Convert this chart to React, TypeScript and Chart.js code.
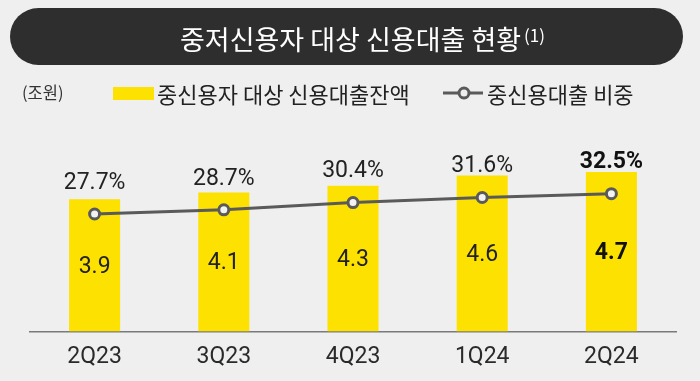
import React, { useEffect, useRef } from "react";
import { Chart, registerables } from "chart.js";

Chart.register(...registerables);

const categories = ["2Q23", "3Q23", "4Q23", "1Q24", "2Q24"];
const loanBalance = [3.9, 4.1, 4.3, 4.6, 4.7];
const loanShare = [27.7, 28.7, 30.4, 31.6, 32.5];
const balanceLabels = ["3.9", "4.1", "4.3", "4.6", "4.7"];
const shareLabels = ["27.7%", "28.7%", "30.4%", "31.6%", "32.5%"];

const titleText = "중저신용자 대상 신용대출 현황";
const titleNote = "(1)";
const unitText = "(조원)";
const barLegend = "중신용자 대상 신용대출잔액";
const lineLegend = "중신용대출 비중";

const YELLOW = "#FDE100";
const LINE = "#5a5a5a";
const NUM_FONT = "Roboto, 'Liberation Sans', sans-serif";
const KR_FONT = "'Noto Sans CJK KR', 'Noto Sans', sans-serif";

const labelPlugin = {
  id: "valueLabels",
  afterDatasetsDraw(chart: any) {
    const ctx = chart.ctx;
    const lineMeta = chart.getDatasetMeta(0);
    const barMeta = chart.getDatasetMeta(1);
    const last = categories.length - 1;
    ctx.save();
    ctx.textAlign = "center";
    ctx.textBaseline = "middle";
    barMeta.data.forEach((bar: any, i: number) => {
      const bold = i === last;
      ctx.fillStyle = bold ? "#111" : "#222";
      ctx.font = `${bold ? "bold " : ""}23px ${NUM_FONT}`;
      const midY = (bar.y + bar.base) / 2;
      ctx.fillText(balanceLabels[i], bar.x, midY + 1.5);
      const pt = lineMeta.data[i];
      ctx.fillText(shareLabels[i], bar.x, pt.y - 31);
    });
    ctx.restore();
  },
};

export default function App() {
  const canvasRef = useRef<HTMLCanvasElement | null>(null);

  useEffect(() => {
    const canvas = canvasRef.current;
    if (!canvas) return;
    const chart = new Chart(canvas, {
      data: {
        labels: categories,
        datasets: [
          {
            type: "line",
            label: lineLegend,
            data: loanShare,
            yAxisID: "y1",
            borderColor: LINE,
            borderWidth: 3,
            pointRadius: 5,
            pointBorderWidth: 3,
            pointBackgroundColor: "#f2f2f2",
            pointBorderColor: LINE,
            tension: 0,
            order: 0,
          } as any,
          {
            type: "bar",
            label: barLegend,
            data: loanBalance,
            yAxisID: "y",
            backgroundColor: YELLOW,
            borderWidth: 0,
            barPercentage: 0.395,
            categoryPercentage: 1,
            order: 1,
          } as any,
        ],
      },
      options: {
        responsive: false,
        animation: false,
        devicePixelRatio: 1,
        layout: { padding: { left: 30, right: 24, top: 128, bottom: 10 } },
        plugins: {
          legend: { display: false },
          title: { display: false },
          tooltip: { enabled: false },
        },
        scales: {
          x: {
            grid: { display: true, color: "transparent", drawTicks: false },
            border: { display: true, color: "#7a7a7a", width: 1.5 },
            ticks: {
              color: "#2a2a2a",
              padding: 12,
              font: { family: NUM_FONT, size: 23 },
            },
          },
          y: { display: false, min: 0, max: 6 },
          y1: { display: false, min: 0, max: 48 },
        },
      },
      plugins: [labelPlugin],
    } as any);
    return () => chart.destroy();
  }, []);

  return (
    <div
      style={{
        position: "absolute",
        left: 0,
        top: 0,
        width: 700,
        height: 381,
        background: "#efefef",
        overflow: "hidden",
      }}
    >
      <canvas
        ref={canvasRef}
        width={700}
        height={393}
        style={{ position: "absolute", left: 0, top: 0, width: 700, height: 393 }}
      />
      <div
        style={{
          position: "absolute",
          left: 10,
          top: 8,
          width: 673,
          height: 57,
          borderRadius: 29,
          background: "#2e2e2e",
        }}
      />
      <div
        style={{
          position: "absolute",
          left: 180,
          top: 20,
          fontFamily: KR_FONT,
          fontSize: 27,
          lineHeight: "38px",
          color: "#ffffff",
          whiteSpace: "nowrap",
        }}
      >
        {titleText}
        <span style={{ fontSize: 17, position: "relative", top: -8, marginLeft: 3 }}>{titleNote}</span>
      </div>
      <div
        style={{
          position: "absolute",
          left: 22,
          top: 80,
          fontFamily: KR_FONT,
          fontSize: 16.5,
          lineHeight: "24px",
          color: "#333",
          whiteSpace: "nowrap",
        }}
      >
        {unitText}
      </div>
      <div
        style={{
          position: "absolute",
          left: 113,
          top: 87,
          width: 41,
          height: 13,
          background: YELLOW,
        }}
      />
      <div
        style={{
          position: "absolute",
          left: 157,
          top: 77,
          fontFamily: KR_FONT,
          fontSize: 22,
          lineHeight: "32px",
          color: "#222",
          whiteSpace: "nowrap",
        }}
      >
        {barLegend}
      </div>
      <svg
        width={42}
        height={20}
        style={{ position: "absolute", left: 442, top: 83 }}
      >
        <line x1={1} y1={10} x2={41} y2={10} stroke={LINE} strokeWidth={3} />
        <circle cx={22} cy={10} r={5} fill="#efefef" stroke={LINE} strokeWidth={3} />
      </svg>
      <div
        style={{
          position: "absolute",
          left: 487,
          top: 77,
          fontFamily: KR_FONT,
          fontSize: 22,
          lineHeight: "32px",
          color: "#222",
          whiteSpace: "nowrap",
        }}
      >
        {lineLegend}
      </div>
    </div>
  );
}
